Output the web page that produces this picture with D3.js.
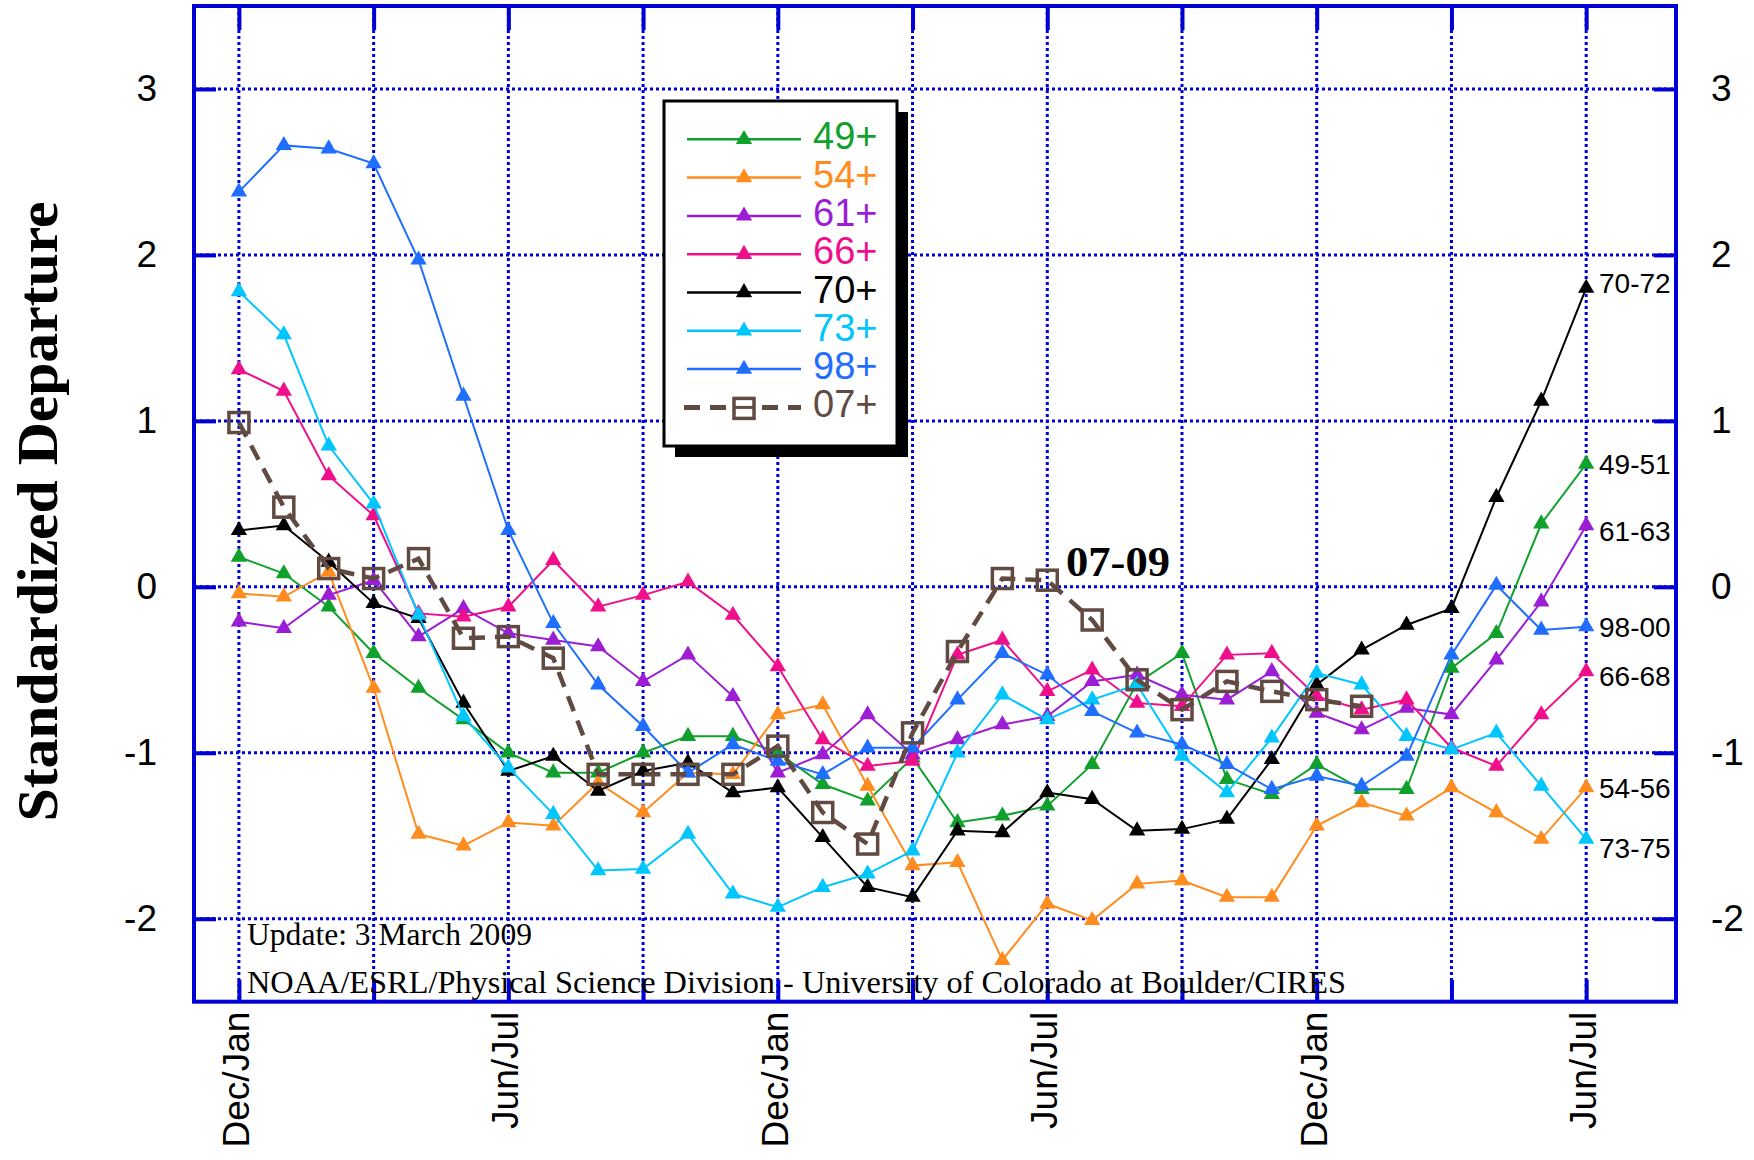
<!DOCTYPE html>
<html>
<head>
<meta charset="utf-8">
<script src="https://cdn.jsdelivr.net/npm/d3@7"></script>
<style>
	body { margin: 0; background: #fff; }
	svg { display: block; }
	.axis text { font-family: "Liberation Sans", Arial, sans-serif; font-size: 37px; fill: #000; }
	.season-label { font-family: "Liberation Sans", Arial, sans-serif; font-size: 37px; fill: #000; }
	.legend-text { font-family: "Liberation Sans", Arial, sans-serif; font-size: 38px; }
	.end-label { font-family: "Liberation Sans", Arial, sans-serif; font-size: 28px; fill: #000; }
	.serif-note { font-family: "Liberation Serif", "Times New Roman", serif; font-size: 31.5px; fill: #000; }
</style>
</head>
<body>
<div id="chart"></div>
<script>

////////////////////////////////////////////////////////////
////////////////////////// Data ////////////////////////////
////////////////////////////////////////////////////////////

//Series names (legend) and the period each line ends on
var seriesNames = ["49+", "54+", "61+", "66+", "70+", "73+", "98+", "07+"];
var endLabels = ["49-51", "54-56", "61-63", "66-68", "70-72", "73-75", "98-00", "07-09"];

//Season axis: 31 running three month means, labelled every 6
var seasonIndex = d3.range(31);
var seasonTicks = [0, 6, 12, 18, 24, 30];
var seasonLabels = ["Dec/Jan", "Jun/Jul", "Dec/Jan", "Jun/Jul", "Dec/Jan", "Jun/Jul"];
var valueTicks = [-2, -1, 0, 1, 2, 3];

//Standardized departures
var s49 = [0.18, 0.08, -0.12, -0.40, -0.61, -0.80, -1.00, -1.12, -1.12, -1.00, -0.90, -0.90, -1.00, -1.19, -1.29, -1.03,
	-1.42, -1.38, -1.32, -1.07, -0.58, -0.40, -1.16, -1.25, -1.07, -1.22, -1.22, -0.49, -0.28, 0.38, 0.74];
var s54 = [-0.04, -0.06, 0.09, -0.61, -1.49, -1.56, -1.42, -1.44, -1.18, -1.36, -1.12, -1.13, -0.77, -0.71, -1.20, -1.68,
	-1.66, -2.25, -1.91, -2.01, -1.79, -1.77, -1.87, -1.87, -1.44, -1.30, -1.38, -1.21, -1.36, -1.52, -1.21];
var s61 = [-0.21, -0.25, -0.05, 0.04, -0.30, -0.13, -0.28, -0.32, -0.36, -0.57, -0.41, -0.66, -1.12, -1.01, -0.77, -1.01,
	-0.92, -0.83, -0.78, -0.57, -0.53, -0.65, -0.68, -0.51, -0.76, -0.86, -0.73, -0.77, -0.44, -0.09, 0.37];
var s66 = [1.31, 1.18, 0.67, 0.43, -0.16, -0.18, -0.12, 0.16, -0.12, -0.05, 0.03, -0.17, -0.48, -0.92, -1.08, -1.05,
	-0.41, -0.32, -0.63, -0.50, -0.70, -0.72, -0.41, -0.40, -0.66, -0.74, -0.68, -0.97, -1.08, -0.77, -0.51];
var s70 = [0.34, 0.37, 0.15, -0.10, -0.19, -0.70, -1.11, -1.02, -1.23, -1.11, -1.06, -1.24, -1.21, -1.51, -1.81, -1.87,
	-1.47, -1.48, -1.24, -1.28, -1.47, -1.46, -1.40, -1.04, -0.59, -0.38, -0.23, -0.13, 0.54, 1.12, 1.80];
var s73 = [1.78, 1.52, 0.85, 0.50, -0.17, -0.78, -1.09, -1.37, -1.71, -1.70, -1.49, -1.85, -1.93, -1.81, -1.73, -1.59,
	-1.00, -0.65, -0.80, -0.68, -0.59, -1.02, -1.24, -0.91, -0.52, -0.59, -0.90, -0.98, -0.88, -1.20, -1.52];
var s98 = [2.38, 2.66, 2.64, 2.55, 1.97, 1.15, 0.34, -0.22, -0.59, -0.84, -1.12, -0.95, -1.05, -1.13, -0.97, -0.97,
	-0.68, -0.40, -0.53, -0.75, -0.88, -0.95, -1.07, -1.22, -1.14, -1.20, -1.02, -0.41, 0.01, -0.26, -0.24];
var s07 = [0.99, 0.48, 0.11, 0.05, 0.17, -0.31, -0.30, -0.43, -1.13, -1.13, -1.13, -1.13, -0.96, -1.36, -1.55, -0.88,
	-0.39, 0.05, 0.04, -0.20, -0.56, -0.74, -0.57, -0.63, -0.68, -0.72];

var seriesValues = [s49, s54, s61, s66, s70, s73, s98, s07];

////////////////////////////////////////////////////////////
///////////////////////// Setup ////////////////////////////
////////////////////////////////////////////////////////////

var colors = ["#10a12c", "#ff8c1e", "#9b1dd4", "#ef0f8b", "#000000", "#00c6ff", "#1f6eff", "#604a42"];
var gridBlue = "#0000d6";

var svg = d3.select("#chart").append("svg")
	.attr("width", 1754)
	.attr("height", 1160);

svg.append("rect").attr("width", 1754).attr("height", 1160).style("fill", "#fff");

var x = d3.scaleLinear().domain([-1, 32]).range([194, 1676]);
var y = d3.scaleLinear().domain([-2.5, 3.5]).range([1001.7, 6]);

var plotLeft = x.range()[0], plotRight = x.range()[1],
	plotTop = y.range()[1], plotBottom = y.range()[0];

////////////////////////////////////////////////////////////
///////////////////////// Grid /////////////////////////////
////////////////////////////////////////////////////////////

var gridTicks = seasonIndex.filter(function(d) { return d % 3 === 0; });

svg.append("g").selectAll(".hgrid")
	.data(valueTicks)
	.enter().append("line")
	.attr("x1", plotLeft).attr("x2", plotRight)
	.attr("y1", function(d) { return y(d); })
	.attr("y2", function(d) { return y(d); })
	.style("stroke", gridBlue)
	.style("stroke-width", 3)
	.style("stroke-dasharray", "3,3");

svg.append("g").selectAll(".vgrid")
	.data(gridTicks)
	.enter().append("line")
	.attr("y1", plotTop).attr("y2", plotBottom)
	.attr("x1", function(d) { return x(d); })
	.attr("x2", function(d) { return x(d); })
	.style("stroke", gridBlue)
	.style("stroke-width", 3)
	.style("stroke-dasharray", "3,3");

//Axes with short solid inward ticks
function styleAxis(g) {
	g.select(".domain").remove();
	g.selectAll(".tick line").style("stroke", gridBlue).style("stroke-width", 4);
}

var minusFormat = function(d) { return d < 0 ? "-" + Math.abs(d) : String(d); };

svg.append("g").attr("class", "axis")
	.attr("transform", "translate(" + plotLeft + ",0)")
	.call(d3.axisLeft(y).tickValues(valueTicks).tickSize(-22).tickPadding(37).tickFormat(minusFormat))
	.call(styleAxis);

svg.append("g").attr("class", "axis")
	.attr("transform", "translate(" + plotRight + ",0)")
	.call(d3.axisRight(y).tickValues(valueTicks).tickSize(-22).tickPadding(35).tickFormat(minusFormat))
	.call(styleAxis);

svg.append("g").attr("class", "axis")
	.attr("transform", "translate(0," + plotTop + ")")
	.call(d3.axisTop(x).tickValues(gridTicks).tickSize(-24).tickFormat(""))
	.call(styleAxis);

svg.append("g").attr("class", "axis")
	.attr("transform", "translate(0," + plotBottom + ")")
	.call(d3.axisBottom(x).tickValues(gridTicks).tickSize(-22).tickFormat(""))
	.call(styleAxis);

//Season labels, rotated
svg.append("g").selectAll(".season-label")
	.data(seasonTicks)
	.enter().append("text")
	.attr("class", "season-label")
	.attr("transform", function(d) { return "translate(" + (x(d) + 10) + "," + (plotBottom + 10) + ") rotate(-90)"; })
	.style("text-anchor", "end")
	.text(function(d, i) { return seasonLabels[i]; });

//Y axis title
svg.append("text")
	.attr("transform", "translate(57,511.5) rotate(-90)")
	.style("text-anchor", "middle")
	.style("font-family", "'Liberation Serif', 'Times New Roman', serif")
	.style("font-weight", "bold")
	.style("font-size", "58px")
	.attr("textLength", 620)
	.attr("lengthAdjust", "spacingAndGlyphs")
	.text("Standardized Departure");

////////////////////////////////////////////////////////////
//////////////////////// Notes /////////////////////////////
////////////////////////////////////////////////////////////

svg.append("text").attr("class", "serif-note")
	.attr("x", 247).attr("y", 945)
	.attr("textLength", 285).attr("lengthAdjust", "spacingAndGlyphs")
	.text("Update: 3 March 2009");

svg.append("text").attr("class", "serif-note")
	.attr("x", 247).attr("y", 993)
	.attr("textLength", 1099).attr("lengthAdjust", "spacingAndGlyphs")
	.text("NOAA/ESRL/Physical Science Division - University of Colorado at Boulder/CIRES");

////////////////////////////////////////////////////////////
//////////////////////// Series ////////////////////////////
////////////////////////////////////////////////////////////

var line = d3.line()
	.x(function(d, i) { return x(seasonIndex[i]); })
	.y(function(d) { return y(d); });

var triangle = d3.symbol().type(d3.symbolTriangle).size(115);

var series = svg.append("g").selectAll(".series")
	.data(seriesValues)
	.enter().append("g")
	.attr("class", "series");

series.append("path")
	.attr("d", line)
	.style("fill", "none")
	.style("stroke", function(d, i) { return colors[i]; })
	.style("stroke-width", function(d, i) { return i === 7 ? 4.5 : 2; })
	.style("stroke-dasharray", function(d, i) { return i === 7 ? "16,10" : null; });

series.each(function(vals, si) {
	var g = d3.select(this);
	if (si === 7) {
		g.selectAll("rect")
			.data(vals)
			.enter().append("rect")
			.attr("x", function(d, i) { return x(seasonIndex[i]) - 10; })
			.attr("y", function(d) { return y(d) - 10; })
			.attr("width", 20).attr("height", 20)
			.style("fill", "none")
			.style("stroke", colors[si])
			.style("stroke-width", 3.5);
	} else {
		g.selectAll("path.marker")
			.data(vals)
			.enter().append("path")
			.attr("class", "marker")
			.attr("d", triangle)
			.attr("transform", function(d, i) { return "translate(" + x(seasonIndex[i]) + "," + y(d) + ")"; })
			.style("fill", colors[si]);
	}
});

//Period labels at the right end of each line
var labelNudge = {"70-72": -5, "61-63": 5, "66-68": 4, "73-75": 9};

svg.append("g").selectAll(".end-label")
	.data(seriesValues.slice(0, 7))
	.enter().append("text")
	.attr("class", "end-label")
	.attr("x", 1599)
	.attr("y", function(d, i) { return y(d[d.length - 1]) + (labelNudge[endLabels[i]] || 0); })
	.attr("dy", "0.36em")
	.text(function(d, i) { return endLabels[i]; });

//The 07+ period label sits above its peak
svg.append("text")
	.attr("x", 1066).attr("y", 576)
	.style("font-family", "'Liberation Serif', 'Times New Roman', serif")
	.style("font-weight", "bold")
	.style("font-size", "42px")
	.attr("textLength", 104)
	.attr("lengthAdjust", "spacingAndGlyphs")
	.text(endLabels[7]);

////////////////////////////////////////////////////////////
//////////////////////// Border ////////////////////////////
////////////////////////////////////////////////////////////

svg.append("rect")
	.attr("x", plotLeft).attr("y", plotTop)
	.attr("width", plotRight - plotLeft).attr("height", plotBottom - plotTop)
	.style("fill", "none")
	.style("stroke", gridBlue)
	.style("stroke-width", 4);

////////////////////////////////////////////////////////////
//////////////////////// Legend ////////////////////////////
////////////////////////////////////////////////////////////

var legend = svg.append("g").attr("class", "legend");

legend.append("rect")
	.attr("x", 675).attr("y", 112)
	.attr("width", 233).attr("height", 345)
	.style("fill", "#000");

legend.append("rect")
	.attr("x", 664).attr("y", 101)
	.attr("width", 233).attr("height", 345)
	.style("fill", "#fff")
	.style("stroke", "#000")
	.style("stroke-width", 3);

var rows = legend.selectAll(".legend-row")
	.data(seriesNames)
	.enter().append("g")
	.attr("class", "legend-row")
	.attr("transform", function(d, i) { return "translate(0," + (139.3 + i * 38.3) + ")"; });

rows.append("line")
	.attr("x1", function(d, i) { return i === 7 ? 684 : 687; })
	.attr("x2", 801)
	.style("stroke", function(d, i) { return colors[i]; })
	.style("stroke-width", function(d, i) { return i === 7 ? 5 : 2.5; })
	.style("stroke-dasharray", function(d, i) { return i === 7 ? "16,10" : null; });

rows.each(function(d, i) {
	var g = d3.select(this);
	if (i === 7) {
		g.append("rect")
			.attr("x", 734).attr("y", -9)
			.attr("width", 20).attr("height", 20)
			.style("fill", "#fff")
			.style("stroke", colors[i])
			.style("stroke-width", 3.5);
		g.append("line")
			.attr("x1", 734).attr("x2", 754)
			.style("stroke", colors[i]).style("stroke-width", 3);
	} else {
		g.append("path")
			.attr("d", triangle)
			.attr("transform", "translate(744,0)")
			.style("fill", colors[i]);
	}
});

rows.append("text")
	.attr("class", "legend-text")
	.attr("x", 813)
	.attr("y", 10)
	.style("fill", function(d, i) { return colors[i]; })
	.text(function(d) { return d; });

</script>
</body>
</html>
